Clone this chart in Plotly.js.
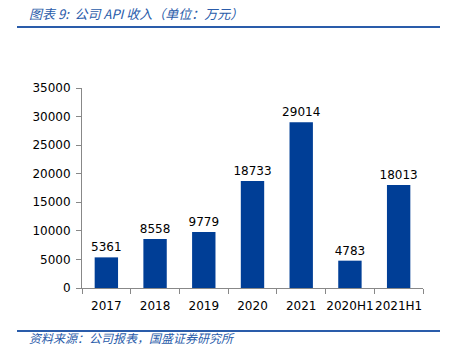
<!DOCTYPE html>
<html>
<head>
<meta charset="utf-8">
<script src="https://cdn.plot.ly/plotly-3.0.1.min.js"></script>
<style>html,body{margin:0;padding:0;background:#fff;}#chart{width:454px;height:345px;}</style>
</head>
<body>
<div id="chart"></div>
<script>
const categories = ["2017","2018","2019","2020","2021","2020H1","2021H1"];
const revenue = [5361, 8558, 9779, 18733, 29014, 4783, 18013];
const yTicks = [0,5000,10000,15000,20000,25000,30000,35000];

const W = 341, H = 200, L = 82, B = 57;
function px(x){ return (x - L)/W; }
function py(y){ return (345 - B - y)/H; }

const trace = {
  type: 'bar',
  x: categories,
  y: revenue,
  text: revenue.map(String),
  textposition: 'outside',
  constraintext: 'none',
  cliponaxis: false,
  textfont: {family: 'DejaVu Sans', size: 12, color: '#000'},
  outsidetextfont: {family: 'DejaVu Sans', size: 12, color: '#000'},
  marker: {color: '#003E96'},
  width: 0.48,
  hoverinfo: 'none'
};

const layout = {
  width: 454, height: 345,
  margin: {l: 82, r: 31, t: 88, b: 57},
  paper_bgcolor: '#fff', plot_bgcolor: '#fff',
  showlegend: false,
  font: {family: 'DejaVu Sans', size: 12, color: '#000'},
  xaxis: {
    type: 'category',
    showline: true, linecolor: '#888', linewidth: 1,
    ticks: 'outside', tickson: 'boundaries', ticklen: 5, tickcolor: '#888',
    tickangle: 0, automargin: false, ticklabelstandoff: 7,
    showgrid: false, zeroline: false,
    tickfont: {family: 'DejaVu Sans', size: 12, color: '#000'}
  },
  yaxis: {
    range: [0, 35000],
    tickvals: yTicks,
    ticktext: yTicks.map(String),
    showline: true, linecolor: '#888', linewidth: 1,
    ticks: 'outside', ticklen: 5, tickcolor: '#888',
    automargin: false, ticklabelstandoff: 3,
    showgrid: false, zeroline: false,
    tickfont: {family: 'DejaVu Sans', size: 12, color: '#000'}
  },
  shapes: [
    {type: 'line', xref: 'paper', yref: 'paper', x0: px(17), x1: px(440), y0: py(27), y1: py(27), line: {color: '#2A5CAA', width: 2}},
    {type: 'line', xref: 'paper', yref: 'paper', x0: px(17), x1: px(440), y0: py(331), y1: py(331), line: {color: '#2A5CAA', width: 2}}
  ],
  annotations: [
    {xref: 'paper', yref: 'paper', x: px(27), y: py(13), xanchor: 'left', yanchor: 'middle', showarrow: false,
     text: '<i>图表 9:  公司 API 收入（单位：万元）</i>', font: {family: 'Noto Sans CJK SC', size: 13, color: '#2A5CAA'}},
    {xref: 'paper', yref: 'paper', x: px(27), y: py(337), xanchor: 'left', yanchor: 'middle', showarrow: false,
     text: '<i>资料来源：公司报表，国盛证券研究所</i>', font: {family: 'Noto Sans CJK SC', size: 12, color: '#2A5CAA'}}
  ]
};

Plotly.newPlot('chart', [trace], layout, {staticPlot: true, displayModeBar: false});
</script>
</body>
</html>
